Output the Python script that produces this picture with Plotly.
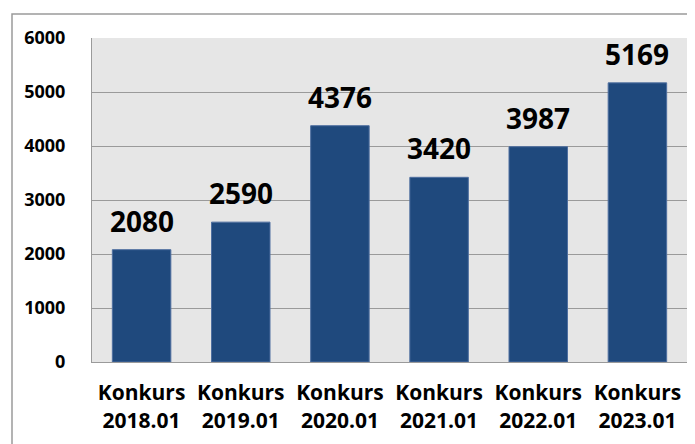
import plotly.graph_objects as go

categories = ["Konkurs<br>2018.01", "Konkurs<br>2019.01", "Konkurs<br>2020.01",
              "Konkurs<br>2021.01", "Konkurs<br>2022.01", "Konkurs<br>2023.01"]
values = [2080, 2590, 4376, 3420, 3987, 5169]
y_ticks = [0, 1000, 2000, 3000, 4000, 5000, 6000]

FONT = "Open Sans"

fig = go.Figure(go.Bar(
    x=categories, y=values,
    marker=dict(color="#1F497D", line=dict(color="#4F6FA0", width=1)),
    width=0.59,
))

for c, v in zip(categories, values):
    fig.add_annotation(x=c, y=v, text=str(v), showarrow=False,
                       yanchor="bottom", yshift=8,
                       font=dict(family=FONT, size=28, color="black", weight="bold"))

# body has an 8px default margin in the browser
W, H = 687, 436
l, r, t, b = 84, 8, 30, 82
pw, ph = W - l - r, H - t - b

def px_x(x):
    return (x - l) / pw

def px_y(y):
    return 1 - (y - t) / ph

fig.add_shape(type="rect", xref="paper", yref="paper",
              x0=px_x(4), x1=px_x(700), y0=px_y(460), y1=px_y(6),
              line=dict(color="#9A9A9A", width=1.5), layer="below")

fig.update_layout(
    width=W, height=H,
    margin=dict(l=l, r=r, t=t, b=b),
    paper_bgcolor="white", plot_bgcolor="#E6E6E6",
    showlegend=False,
    font=dict(family=FONT, color="black"),
    xaxis=dict(showgrid=False, showline=True, linecolor="#9A9A9A", linewidth=1,
               tickfont=dict(family=FONT, size=21, weight="bold"),
               ticklabelstandoff=12),
    yaxis=dict(range=[0, 6000], tickvals=y_ticks, showgrid=True, gridcolor="#9A9A9A",
               gridwidth=1, showline=True, linecolor="#9A9A9A", linewidth=1,
               mirror=False, zeroline=False,
               tickfont=dict(family=FONT, size=18, weight="bold"),
               ticklabelstandoff=22),
)

fig.write_html("out.html")
